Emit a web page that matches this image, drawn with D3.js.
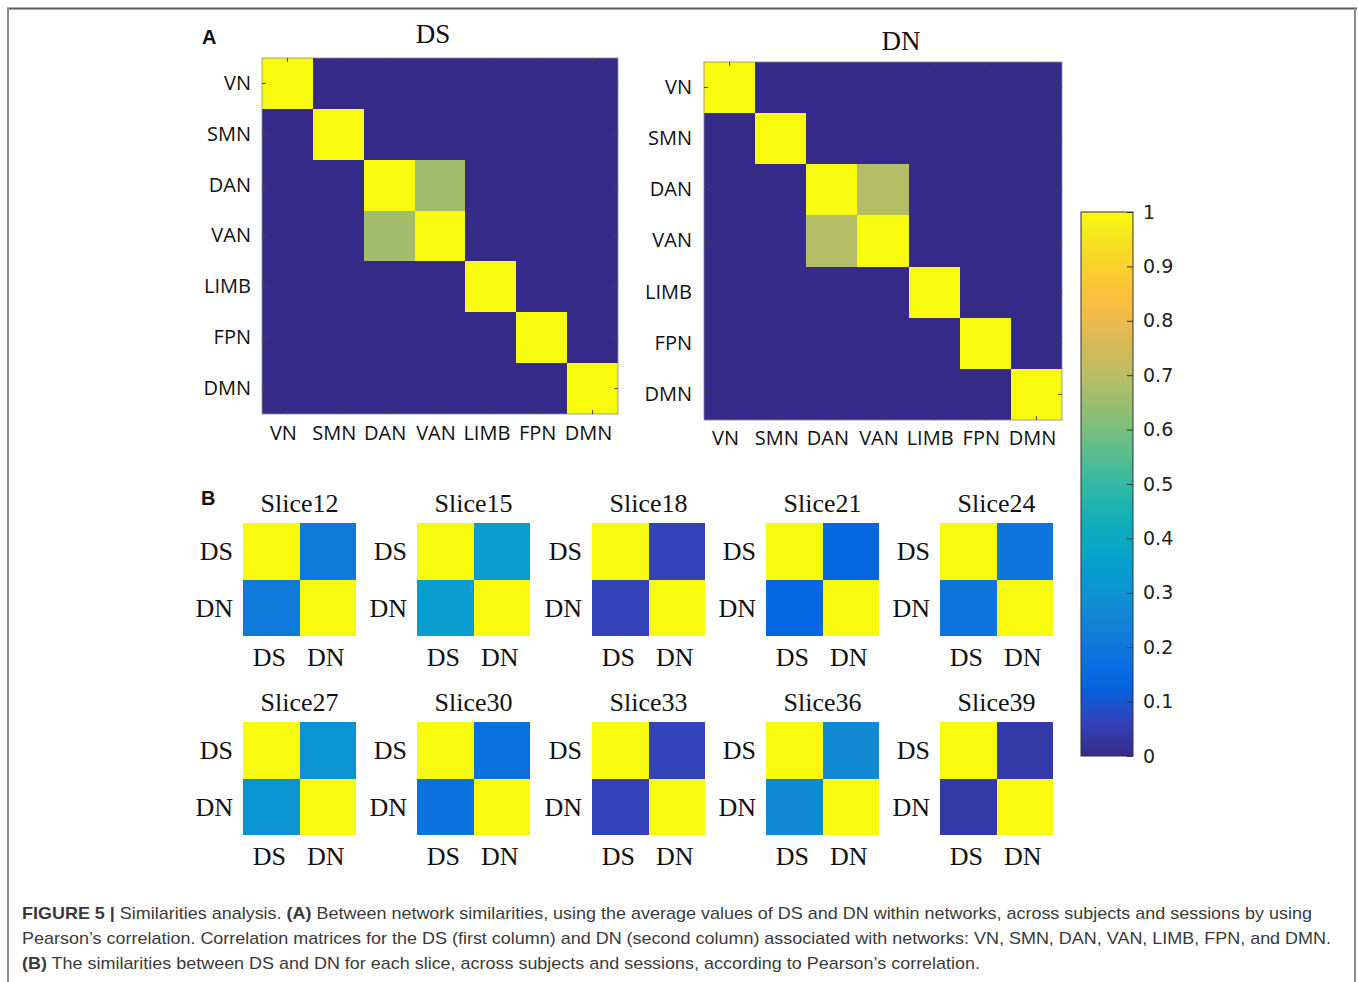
<!DOCTYPE html>
<html>
<head>
<meta charset="utf-8">
<script src="https://cdn.jsdelivr.net/npm/d3@7"></script>
<style>
  body { margin: 0; background: #fff; }
  .axA text { font-family: "Open Sans", sans-serif; font-size: 20px; fill: #111; }
  .axA line { stroke: #444; }
  .axA path { display: none; }
  .serif { font-family: "Liberation Serif", "Times New Roman", serif; fill: #111; }
  .cb text { font-family: "DejaVu Sans", sans-serif; font-size: 19px; fill: #222; }
  .cb line { stroke: #333; }
  .cb path { display: none; }
  .cap { font-family: "Liberation Sans", Arial, sans-serif; font-size: 17px; fill: #3a3a3a; }
  .cap .b { font-weight: 700; }
</style>
</head>
<body>
<div id="chart"></div>
<script>
// networks and the between-network correlation matrices (panel A)
const networks = ["VN", "SMN", "DAN", "VAN", "LIMB", "FPN", "DMN"];
const dsMatrix = [
  [1, 0, 0, 0, 0, 0, 0],
  [0, 1, 0, 0, 0, 0, 0],
  [0, 0, 1, 0.66, 0, 0, 0],
  [0, 0, 0.66, 1, 0, 0, 0],
  [0, 0, 0, 0, 1, 0, 0],
  [0, 0, 0, 0, 0, 1, 0],
  [0, 0, 0, 0, 0, 0, 1]
];
const dnMatrix = [
  [1, 0, 0, 0, 0, 0, 0],
  [0, 1, 0, 0, 0, 0, 0],
  [0, 0, 1, 0.69, 0, 0, 0],
  [0, 0, 0.69, 1, 0, 0, 0],
  [0, 0, 0, 0, 1, 0, 0],
  [0, 0, 0, 0, 0, 1, 0],
  [0, 0, 0, 0, 0, 0, 1]
];

// DS vs DN similarity per slice (panel B)
const slices = ["Slice12", "Slice15", "Slice18", "Slice21", "Slice24",
                "Slice27", "Slice30", "Slice33", "Slice36", "Slice39"];
const sliceSim = [0.21, 0.34, 0.06, 0.14, 0.19, 0.30, 0.18, 0.06, 0.27, 0.04];
const pairLabels = ["DS", "DN"];

const cbTicks = [0, 0.1, 0.2, 0.3, 0.4, 0.5, 0.6, 0.7, 0.8, 0.9, 1];

// parula colormap, sampled
const parula = [
  [0.2081, 0.1663, 0.5292], [0.1959, 0.2645, 0.7279], [0.0117, 0.3875, 0.8820],
  [0.0498, 0.4586, 0.8641], [0.0793, 0.5200, 0.8312], [0.0343, 0.5966, 0.8199],
  [0.0228, 0.6535, 0.7768], [0.0843, 0.6928, 0.7062], [0.2178, 0.7250, 0.6193],
  [0.3953, 0.7459, 0.5244], [0.5709, 0.7485, 0.4494], [0.7184, 0.7411, 0.3905],
  [0.8507, 0.7299, 0.3360], [0.9739, 0.7314, 0.2666], [0.9880, 0.8066, 0.1794],
  [0.9589, 0.8949, 0.1132], [0.9763, 0.9831, 0.0538]
];
const parulaPos = [0, 4, 8, 12, 16, 20, 24, 28, 32, 36, 40, 44, 48, 52, 56, 60, 63].map(i => i / 63);
const color = d3.scaleLinear()
  .domain(parulaPos)
  .range(parula.map(c => d3.rgb(c[0] * 255, c[1] * 255, c[2] * 255)))
  .clamp(true);

const W = 1358, H = 982;
const svg = d3.select("#chart").append("svg")
  .attr("width", W).attr("height", H);

// figure frame
svg.append("line").attr("x1", 7).attr("x2", 1357).attr("y1", 8.5).attr("y2", 8.5)
  .attr("stroke", "#5a5a5a").attr("stroke-width", 2);
svg.append("line").attr("x1", 8).attr("x2", 8).attr("y1", 8).attr("y2", H)
  .attr("stroke", "#8a8a8a").attr("stroke-width", 2);
svg.append("line").attr("x1", 1355).attr("x2", 1355).attr("y1", 8).attr("y2", H)
  .attr("stroke", "#8a8a8a").attr("stroke-width", 2);

// panel A
function networkMatrix(m, x0, y0, size, title, titleX, titleY, padL, padB) {
  const g = svg.append("g").attr("transform", "translate(" + x0 + "," + y0 + ")");
  const band = d3.scaleBand().domain(networks).range([0, size]);

  const cells = [];
  m.forEach((row, i) => row.forEach((v, j) => cells.push({ r: networks[i], c: networks[j], v: v })));

  g.append("rect").attr("width", size).attr("height", size).attr("fill", color(0));

  g.selectAll("rect.cell").data(cells).enter().append("rect")
    .attr("class", "cell")
    .attr("x", d => Math.round(band(d.c)))
    .attr("y", d => Math.round(band(d.r)))
    .attr("width", d => Math.round(band(d.c) + band.bandwidth()) - Math.round(band(d.c)))
    .attr("height", d => Math.round(band(d.r) + band.bandwidth()) - Math.round(band(d.r)))
    .attr("shape-rendering", "crispEdges")
    .attr("fill", d => color(d.v));

  g.append("rect").attr("width", size).attr("height", size)
    .attr("fill", "none").attr("stroke", "#8a8a8a").attr("stroke-width", 0.8);

  g.append("g").attr("class", "axA")
    .call(d3.axisLeft(band).tickSizeInner(-4).tickSizeOuter(0).tickPadding(padL));
  g.append("g").attr("class", "axA").attr("transform", "translate(0," + size + ")")
    .call(d3.axisBottom(band).tickSizeInner(-4).tickSizeOuter(0).tickPadding(padB))
    .selectAll("text").attr("dx", -4);
  g.append("g").attr("class", "axA")
    .call(d3.axisTop(band).tickSizeInner(-4).tickSizeOuter(0).tickFormat(""));
  g.append("g").attr("class", "axA").attr("transform", "translate(" + size + ",0)")
    .call(d3.axisRight(band).tickSizeInner(-4).tickSizeOuter(0).tickFormat(""));

  svg.append("text").attr("class", "serif")
    .attr("x", titleX).attr("y", titleY)
    .attr("text-anchor", "middle").attr("font-size", 27).text(title);
}

networkMatrix(dsMatrix, 262, 58, 356, "DS", 433, 43, 11, 12);
networkMatrix(dnMatrix, 704, 62, 358, "DN", 901, 50, 12, 11);

svg.append("text").attr("x", 202).attr("y", 44)
  .attr("font-family", "Liberation Sans, Arial, sans-serif")
  .attr("font-weight", "bold").attr("font-size", 20).attr("fill", "#111").text("A");

// colorbar
const cbX = 1081, cbW = 52;
const cbY = d3.scaleLinear().domain([0, 1]).range([756, 212]);
const grad = svg.append("defs").append("linearGradient")
  .attr("id", "parulaGrad").attr("x1", 0).attr("y1", 1).attr("x2", 0).attr("y2", 0);
grad.selectAll("stop").data(d3.range(0, 1.0001, 0.02)).enter().append("stop")
  .attr("offset", d => d).attr("stop-color", d => color(d));

svg.append("rect").attr("x", cbX).attr("y", cbY(1))
  .attr("width", cbW).attr("height", cbY(0) - cbY(1))
  .attr("fill", "url(#parulaGrad)").attr("stroke", "#333").attr("stroke-width", 1);
svg.append("g").attr("class", "cb").attr("transform", "translate(" + (cbX + cbW) + ",0)")
  .call(d3.axisRight(cbY).tickValues(cbTicks).tickFormat(d3.format("")).tickSizeInner(-6).tickSizeOuter(0).tickPadding(10));

// panel B
svg.append("text").attr("x", 201).attr("y", 505)
  .attr("font-family", "Liberation Sans, Arial, sans-serif")
  .attr("font-weight", "bold").attr("font-size", 20).attr("fill", "#111").text("B");

const colX = d3.scaleLinear().domain([0, 4]).range([243, 940]);
const rowY = d3.scaleLinear().domain([0, 1]).range([523, 722]);
const sliceSize = 113;
const pairBand = d3.scaleBand().domain(pairLabels).range([0, sliceSize]);

const sliceG = svg.selectAll("g.slice").data(slices.map((s, i) => ({ name: s, v: sliceSim[i], i: i })))
  .enter().append("g")
  .attr("class", "slice")
  .attr("transform", d => "translate(" + Math.round(colX(d.i % 5)) + "," + rowY(Math.floor(d.i / 5)) + ")");

sliceG.selectAll("rect")
  .data(d => {
    const out = [];
    pairLabels.forEach((r, a) => pairLabels.forEach((c, b) => out.push({ r: r, c: c, v: a === b ? 1 : d.v })));
    return out;
  })
  .enter().append("rect")
  .attr("x", d => Math.round(pairBand(d.c)))
  .attr("y", d => Math.round(pairBand(d.r)))
  .attr("width", d => Math.round(pairBand(d.c) + pairBand.bandwidth()) - Math.round(pairBand(d.c)))
  .attr("height", d => Math.round(pairBand(d.r) + pairBand.bandwidth()) - Math.round(pairBand(d.r)))
  .attr("shape-rendering", "crispEdges")
  .attr("fill", d => color(d.v));

sliceG.append("text").attr("class", "serif")
  .attr("x", sliceSize / 2).attr("y", -11)
  .attr("text-anchor", "middle").attr("font-size", 26).text(d => d.name);

sliceG.selectAll("text.yl").data(pairLabels).enter().append("text")
  .attr("class", "serif yl")
  .attr("x", -10).attr("y", d => pairBand(d) + pairBand.bandwidth() / 2 + 9)
  .attr("text-anchor", "end").attr("font-size", 26).text(d => d);

sliceG.selectAll("text.xl").data(pairLabels).enter().append("text")
  .attr("class", "serif xl")
  .attr("x", d => pairBand(d) + pairBand.bandwidth() / 2 - 2).attr("y", sliceSize + 30)
  .attr("text-anchor", "middle").attr("font-size", 26).text(d => d);

// caption
const captionLines = [
  { w: 1290, parts: [["FIGURE 5 | ", true], ["Similarities analysis. ", false], ["(A)", true],
    [" Between network similarities, using the average values of DS and DN within networks, across subjects and sessions by using", false]] },
  { w: 1309, parts: [["Pearson\u2019s correlation. Correlation matrices for the DS (first column) and DN (second column) associated with networks: VN, SMN, DAN, VAN, LIMB, FPN, and DMN.", false]] },
  { w: 958, parts: [["(B)", true], [" The similarities between DS and DN for each slice, across subjects and sessions, according to Pearson\u2019s correlation.", false]] }
];
captionLines.forEach((line, i) => {
  const t = svg.append("text").attr("class", "cap")
    .attr("x", 22).attr("y", 919 + i * 25)
    .attr("textLength", line.w).attr("lengthAdjust", "spacingAndGlyphs");
  line.parts.forEach(p => {
    t.append("tspan").attr("class", p[1] ? "b" : null).text(p[0]);
  });
});
</script>
</body>
</html>
